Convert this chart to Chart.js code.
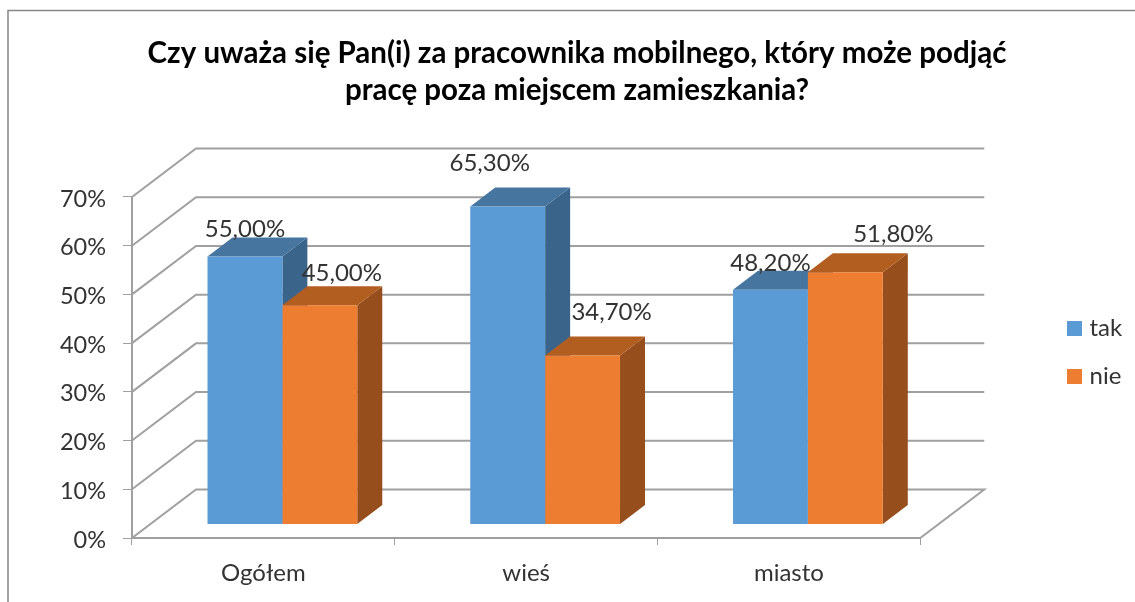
<!DOCTYPE html>
<html><head><meta charset="utf-8">
<script src="https://cdn.jsdelivr.net/npm/chart.js@4"></script>
<style>html,body{margin:0;padding:0;background:#fff;overflow:hidden}#w{position:relative;width:1135px;height:602px}canvas{display:block}</style>
</head><body><div id="w"><canvas id="c" width="1135" height="602"></canvas></div>
<script>
const categories = ["Ogółem", "wieś", "miasto"];
const takValues = [55.0, 65.3, 48.2];
const nieValues = [45.0, 34.7, 51.8];
const titleLines = ["Czy uważa się Pan(i) za pracownika mobilnego, który może podjąć", "pracę poza miejscem zamieszkania?"];
const valueLabels = [["55,00%", "65,30%", "48,20%"], ["45,00%", "34,70%", "51,80%"]];

const FONT = "Lato, Carlito, sans-serif", INK = "#333333", GRID = "#a0a0a0";
const wall = {dx: 64, dy: -48.5};
const barShift = {dx: 19, dy: -13.5};
const barDepth = {dx: 25, dy: -19};
const faces = [{top: "#4675a0", side: "#3b648b"}, {top: "#b35e21", side: "#964f1c"}];
const labelNudge = [[[0, -27], [-18, -43], [0, -26]], [[22, -32], [29, -43], [48, -38]]];

const threeD = {
  id: "threeD",
  beforeDraw(chart) {
    const c = chart.ctx;
    c.save();
    c.fillStyle = "#fff"; c.fillRect(0, 0, chart.width, chart.height);
    c.strokeStyle = "#868686"; c.lineWidth = 1.5;
    c.beginPath(); c.moveTo(8, chart.height); c.lineTo(8, 10.5); c.lineTo(chart.width, 10.5); c.stroke();
    const y = chart.scales.y, a = chart.chartArea;
    c.strokeStyle = GRID; c.lineWidth = 2;
    y.ticks.forEach(t => {
      const py = y.getPixelForValue(t.value);
      c.beginPath(); c.moveTo(a.left, py); c.lineTo(a.left + wall.dx, py + wall.dy);
      c.lineTo(a.right + wall.dx, py + wall.dy);
      if (t.value === 0) c.lineTo(a.right, py);
      c.stroke();
    });
    c.restore();
  },
  beforeDatasetsDraw(chart) {
    const c = chart.ctx;
    c.save();
    c.translate(barShift.dx, barShift.dy);
    chart.data.datasets.forEach((ds, di) => {
      chart.getDatasetMeta(di).data.forEach(b => {
        const l = b.x - b.width / 2, r = b.x + b.width / 2, t = b.y, bo = b.base;
        c.fillStyle = faces[di].side;
        c.beginPath(); c.moveTo(r, t); c.lineTo(r + barDepth.dx, t + barDepth.dy);
        c.lineTo(r + barDepth.dx, bo + barDepth.dy); c.lineTo(r, bo); c.closePath(); c.fill();
        c.fillStyle = faces[di].top;
        c.beginPath(); c.moveTo(l, t); c.lineTo(l + barDepth.dx, t + barDepth.dy);
        c.lineTo(r + barDepth.dx, t + barDepth.dy); c.lineTo(r, t); c.closePath(); c.fill();
      });
    });
  },
  afterDatasetsDraw(chart) {
    const c = chart.ctx;
    c.restore();
    c.save();
    c.fillStyle = INK; c.font = "24px " + FONT; c.textAlign = "center"; c.textBaseline = "middle";
    chart.data.datasets.forEach((ds, di) => {
      chart.getDatasetMeta(di).data.forEach((b, i) => {
        const n = labelNudge[di][i];
        c.fillText(valueLabels[di][i], b.x + barShift.dx + n[0], b.y + barShift.dy + n[1]);
      });
    });
    c.restore();
  },
  afterLayout(chart) {
    const l = chart.legend;
    const w = l.width;
    l.left = 1071.5 - l.options.labels.padding; l.right = l.left + w;
    l.top -= 15; l.bottom -= 15;
  }
};

new Chart(document.getElementById("c"), {
  type: "bar",
  plugins: [threeD],
  data: {
    labels: categories,
    datasets: [
      {label: "tak", data: takValues, backgroundColor: "#5b9bd5", clip: false},
      {label: "nie", data: nieValues, backgroundColor: "#ed7d31", clip: false}
    ]
  },
  options: {
    responsive: false, animation: false,
    layout: {padding: {left: 19, top: 0, right: 0, bottom: 0}},
    datasets: {bar: {categoryPercentage: 0.57, barPercentage: 1}},
    plugins: {
      tooltip: {enabled: false},
      title: {display: true, text: titleLines, color: "#000", font: {family: FONT, size: 29.5, weight: "bold", lineHeight: 1.254}, padding: {top: 35, bottom: 88}},
      legend: {position: "right", fullSize: false, labels: {
        boxWidth: 6, boxHeight: 6, padding: 24, color: INK, font: {family: FONT, size: 24},
        generateLabels(chart) {
          return Chart.defaults.plugins.legend.labels.generateLabels(chart)
            .map(it => ({...it, lineWidth: 9, strokeStyle: it.fillStyle}));
        }
      }}
    },
    scales: {
      x: {
        grid: {drawOnChartArea: false, drawTicks: true, tickLength: 7, color: GRID},
        border: {display: true, color: GRID, width: 2},
        ticks: {color: INK, font: {family: FONT, size: 24}, padding: 13.5, maxRotation: 0},
        afterFit(s) { s.height = 64; }
      },
      y: {
        min: 0, max: 70,
        grid: {drawOnChartArea: false, drawTicks: true, tickLength: 9, color: GRID},
        border: {display: true, color: GRID, width: 2},
        ticks: {stepSize: 10, color: INK, padding: 17, labelOffset: 2, font: {family: FONT, size: 23.5}, callback: v => v + "%"},
        afterFit(s) { s.width = 113; }
      },
      spacer: {
        type: "linear", axis: "y", position: "right", display: true,
        grid: {display: false}, border: {display: false}, ticks: {display: false},
        afterFit(s) { s.width = 130; }
      }
    }
  }
});
</script>
</body></html>
